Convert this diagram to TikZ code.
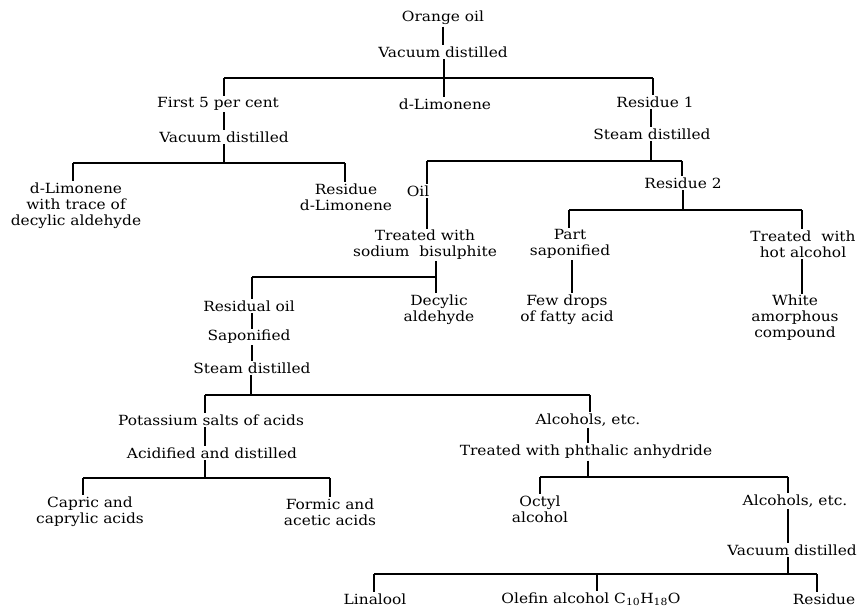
\documentclass[tikz,border=0pt]{standalone}
\usepackage{fontspec}
\setmainfont{DejaVu Serif}[FakeStretch=1.1]
\begin{document}
\begin{tikzpicture}[x=1pt,y=-1pt,
  lbl/.style={align=center,inner sep=1.5pt,font=\fontsize{14}{16}\selectfont},
  hl/.style={line width=2pt},
  vl/.style={line width=1.3pt}]
\useasboundingbox (0,0) rectangle (862,608);
% nodes
\node[lbl] (orange) at (443,18) {Orange oil};
\node[lbl] (vac1) at (443,52) {Vacuum distilled};
\node[lbl] (first) at (218,104) {First 5 per cent};
\node[lbl] (dlim) at (445,104) {d-Limonene};
\node[lbl] (res1) at (655,102) {Residue 1};
\node[lbl] (vac2) at (224,137) {Vacuum distilled};
\node[lbl] (dlimtr) at (76,206) {d-Limonene\\with trace of\\decylic aldehyde};
\node[lbl] (resdl) at (346,197) {Residue\\d-Limonene};
\node[lbl] (steam1) at (652,134) {Steam distilled};
\node[lbl] (oil) at (418,191) {Oil};
\node[lbl] (res2) at (683,183) {Residue 2};
\node[lbl] (part) at (570,244) {Part\\saponified};
\node[lbl] (hot) at (803,244) {Treated\ \ with\\hot alcohol};
\node[lbl] (few) at (567,310) {Few drops\\of fatty acid};
\node[lbl] (white) at (795,318) {White\\amorphous\\compound};
\node[lbl] (bisul) at (425,245) {Treated with\\sodium\ \ bisulphite};
\node[lbl] (decyl) at (439,310) {Decylic\\aldehyde};
\node[lbl] (resoil) at (249,306) {Residual oil};
\node[lbl] (sapon) at (249,337) {Saponified};
\node[lbl] (steam2) at (252,368) {Steam distilled};
\node[lbl] (potas) at (211,420) {Potassium salts of acids};
\node[lbl] (alc1) at (588,420) {Alcohols, etc.};
\node[lbl] (acid) at (212,453) {Acidified and distilled};
\node[lbl] (capric) at (90,512) {Capric and\\caprylic acids};
\node[lbl] (formic) at (330,512) {Formic and\\acetic acids};
\node[lbl] (phth) at (586,452) {Treated with phthalic anhydride};
\node[lbl] (octyl) at (540,509) {Octyl\\alcohol};
\node[lbl] (alc2) at (795,501) {Alcohols, etc.};
\node[lbl] (vac3) at (792,550) {Vacuum distilled};
\node[lbl] (lina) at (375,599) {Linalool};
\node[lbl] (olefin) at (591,599) {Olefin alcohol C\textsubscript{10}H\textsubscript{18}O};
\node[lbl] (resid) at (824,599) {Residue};
% junctions
\coordinate (j1) at (444,78); \coordinate (b1l) at (224,78); \coordinate (b1r) at (653,78);
\coordinate (j2) at (224,163); \coordinate (b2l) at (73,163); \coordinate (b2r) at (345,163);
\coordinate (j3) at (651,161); \coordinate (b3l) at (427,161); \coordinate (b3r) at (682,161);
\coordinate (j4) at (436,277); \coordinate (b4l) at (252,277);
\coordinate (j5) at (251,395); \coordinate (b5l) at (205,395); \coordinate (b5r) at (590,395);
\coordinate (j6) at (205,478); \coordinate (b6l) at (83,478); \coordinate (b6r) at (330,478);
\coordinate (j7) at (588,477); \coordinate (b7l) at (540,477); \coordinate (b7r) at (788,477);
\coordinate (j8) at (788,574); \coordinate (b8l) at (374,574); \coordinate (b8m) at (597,574); \coordinate (b8r) at (817,574);
\coordinate (j9) at (683,210); \coordinate (b9l) at (569,210); \coordinate (b9r) at (802,210);
% connectors
\draw[vl] (orange) -- (vac1);
\draw[hl] (b1l) -- (b1r);
\draw[vl] (j1 |- vac1.south) -- (j1 |- dlim.north);
\draw[vl] (b1l) -- (b1l |- first.north);
\draw[vl] (b1r) -- (b1r |- res1.north);
\draw[vl] (b1l |- first.south) -- (b1l |- vac2.north);
\draw[vl] (j2 |- vac2.south) -- (j2);
\draw[hl] (b2l) -- (b2r);
\draw[vl] (b2l) -- (b2l |- dlimtr.north);
\draw[vl] (b2r) -- (b2r |- resdl.north);
\draw[vl] (j3 |- res1.south) -- (j3 |- steam1.north);
\draw[vl] (j3 |- steam1.south) -- (j3);
\draw[hl] (b3l) -- (b3r);
\draw[vl] (b3l) -- (b3l |- oil.north);
\draw[vl] (b3r) -- (b3r |- res2.north);
\draw[vl] (b3l |- oil.south) -- (b3l |- bisul.north);
\draw[vl] (j4 |- bisul.south) -- (j4 |- decyl.north);
\draw[hl] (b4l) -- ([xshift=1pt]j4);
\draw[vl] (b4l) -- (b4l |- resoil.north);
\draw[vl] (b4l |- resoil.south) -- (b4l |- sapon.north);
\draw[vl] (b4l |- sapon.south) -- (b4l |- steam2.north);
\draw[vl] (j5 |- steam2.south) -- (j5);
\draw[hl] (b5l) -- (b5r);
\draw[vl] (b5l) -- (b5l |- potas.north);
\draw[vl] (b5r) -- (b5r |- alc1.north);
\draw[vl] (j6 |- potas.south) -- (j6 |- acid.north);
\draw[vl] (j6 |- acid.south) -- (j6);
\draw[hl] (b6l) -- (b6r);
\draw[vl] (b6l) -- (b6l |- capric.north);
\draw[vl] (b6r) -- (b6r |- formic.north);
\draw[vl] (j7 |- alc1.south) -- (j7 |- phth.north);
\draw[vl] (j7 |- phth.south) -- (j7);
\draw[hl] (b7l) -- (b7r);
\draw[vl] (b7l) -- (b7l |- octyl.north);
\draw[vl] (b7r) -- (b7r |- alc2.north);
\draw[vl] (b7r |- alc2.south) -- (b7r |- vac3.north);
\draw[vl] (j8 |- vac3.south) -- (j8);
\draw[hl] (b8l) -- (b8r);
\draw[vl] (b8l) -- (b8l |- lina.north);
\draw[vl] (b8m) -- (b8m |- olefin.north);
\draw[vl] (b8r) -- (b8r |- resid.north);
\draw[vl] (j9 |- res2.south) -- (j9);
\draw[hl] (b9l) -- (b9r);
\draw[vl] (b9l) -- (b9l |- part.north);
\draw[vl] (b9r) -- (b9r |- hot.north);
\draw[vl] ([xshift=2pt]part.south) -- ([xshift=2pt]part.south |- few.north);
\draw[vl] (b9r |- hot.south) -- (b9r |- white.north);
\end{tikzpicture}
\end{document}
